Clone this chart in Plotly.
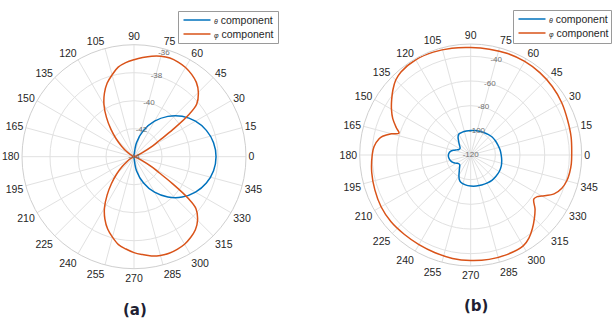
import plotly.graph_objects as go

# ---------------- (a) far-field components, dB ----------------
phi_a = [0, 5, 10, 15, 20, 25, 30, 32.5, 35, 37.5, 40, 45, 50, 55, 60, 65, 70, 75, 80, 85,
         90, 95, 100, 105, 110, 115, 120, 125, 130, 135, 140, 145, 150, 155, 160, 165,
         170, 175, 180, 185, 190, 195, 200, 205, 210, 215, 220, 225, 230, 235, 240, 245,
         250, 255, 260, 265, 270, 275, 280, 285, 290, 295, 300, 305, 310, 315, 320,
         322.5, 325, 327.5, 330, 335, 340, 345, 350, 355]
ephi_a = [-44, -44, -44, -43.97, -43.8, -43.43, -42.45, -41.85, -40.6, -39.05, -38.15,
          -37.5, -37.07, -36.82, -36.64, -36.54, -36.5, -36.57, -36.71, -36.89, -37.07,
          -37.25, -37.5, -37.95, -38.4, -39.0, -39.71, -40.57, -41.43, -42.21, -42.86,
          -43.36, -43.71, -43.93, -44, -44, -44, -44, -44, -44, -44, -44, -44, -43.93,
          -43.71, -43.38, -42.9, -42.25, -41.5, -40.65, -39.78, -39.08, -38.5, -38.05,
          -37.62, -37.38, -37.15, -36.98, -36.8, -36.7, -36.66, -36.7, -36.78, -36.95,
          -37.18, -37.58, -38.22, -39.15, -40.65, -41.9, -42.5, -43.45, -43.82, -43.97,
          -44, -44]

theta_a = [0, 10, 20, 30, 40, 50, 60, 70, 80, 90, 100, 110, 120, 130, 140, 150, 160, 170,
           180, 190, 200, 210, 220, 230, 240, 250, 260, 270, 280, 290, 300, 310, 320, 330,
           340, 350]
etheta_a = [-38.14, -38.23, -38.5, -38.93, -39.51, -40.24, -41.07, -42.0, -42.98, -44,
            -44, -44, -44, -44, -44, -44, -44, -44, -44, -44, -44, -44, -44, -44, -44,
            -44, -44, -44, -42.98, -42.0, -41.07, -40.24, -39.51, -38.93, -38.5, -38.23]

# ---------------- (b) far-field components, dB ----------------
phi_b = [0, 10, 20, 30, 40, 50, 60, 70, 80, 90, 100, 110, 120, 130, 135, 140, 145, 150,
         155, 160, 163, 165, 168, 170, 175, 180, 190, 200, 210, 220, 230, 240, 250, 260,
         270, 280, 290, 300, 305, 310, 315, 320, 325, 328, 330, 335, 340, 345, 350, 355]
ephi_b = [-38.11, -37.3, -36.49, -34.87, -33.65, -32.84, -32.43, -32.43, -32.84, -32.84,
          -32.03, -31.22, -30.81, -32.03, -34.06, -37.7, -41.76, -45.81, -50.27, -55.95,
          -59.19, -53.51, -47.03, -44.6, -41.35, -40.14, -38.51, -37.3, -36.08, -35.68,
          -36.08, -36.08, -35.68, -34.87, -34.46, -34.06, -34.06, -34.87, -37.7, -42.16,
          -47.03, -51.89, -57.57, -56.35, -53.51, -45.41, -41.35, -39.33, -38.51, -38.11]

theta_b = [0, 10, 20, 30, 40, 50, 60, 70, 80, 90, 100, 110, 120, 125, 130, 135, 140, 145,
           150, 155, 160, 165, 170, 175, 180, 185, 190, 195, 200, 205, 210, 215, 220, 225,
           230, 235, 240, 245, 250, 260, 270, 280, 290, 300, 310, 320, 330, 340, 350]
etheta_b = [-95.27, -95.84, -96.49, -96.89, -97.3, -98.11, -98.92, -99.49, -99.89, -100.14,
            -100.3, -100.3, -100.54, -102.16, -104.59, -106.62, -108.24, -109.46, -109.86,
            -109.46, -107.84, -105.41, -103.38, -102.32, -101.92, -101.92, -102.32, -102.97,
            -103.78, -105.0, -106.62, -107.84, -108.24, -107.43, -105.81, -103.78, -100.95,
            -98.11, -96.49, -95.43, -94.87, -94.46, -94.05, -93.65, -93.24, -93.24, -93.24,
            -93.65, -94.46]

# axis ticks
ang_ticks = list(range(0, 360, 15))
r_ticks_a = [-44, -42, -40, -38, -36]
r_range_a = [-44, -36]
r_ticks_b = [-120, -100, -80, -60, -40]
r_range_b = [-120, -30]
r_label_angle = [74.5, 75]

series_names = ["θ", "φ"]
panel_labels = ["(a)", "(b)"]

BLUE = "#0072BD"
ORANGE = "#D95319"
GRID = "#e1e1e1"
EDGE = "#cfcfcf"
TXT = "#262626"
FONT = "Liberation Sans, Arial, sans-serif"

W, H = 616, 320


def closed(a, v):
    return list(a) + [a[0]], list(v) + [v[0]]


fig = go.Figure()

for (ang, val, color, sub) in [
    (theta_a, etheta_a, BLUE, "polar"),
    (phi_a, ephi_a, ORANGE, "polar"),
    (theta_b, etheta_b, BLUE, "polar2"),
    (phi_b, ephi_b, ORANGE, "polar2"),
]:
    t, r = closed(ang, val)
    fig.add_trace(go.Scatterpolar(
        theta=t, r=r, mode="lines", subplot=sub, showlegend=False,
        line=dict(color=color, width=1.5, shape="spline", smoothing=1.0),
        hoverinfo="skip",
    ))

# radial tick labels, set along a ray just clockwise of the 80 degree spoke;
# a label sitting on the outer edge is nudged inward
for sub, ticks, ang, rmax in [("polar", r_ticks_a, r_label_angle[0], r_range_a[1]),
                              ("polar2", r_ticks_b, r_label_angle[1], r_range_b[1])]:
    fig.add_trace(go.Scatterpolar(
        r=ticks, theta=[ang] * len(ticks), text=[str(t) for t in ticks],
        mode="text", subplot=sub, showlegend=False, hoverinfo="skip",
        textposition=["bottom center" if t >= rmax else "middle center" for t in ticks],
        cliponaxis=False,
        textfont=dict(family=FONT, size=8, color="#707070"),
    ))


def polar_layout(dx, dy, rrange, rticks):
    return dict(
        domain=dict(x=dx, y=dy),
        bgcolor="white",
        angularaxis=dict(
            rotation=0, direction="counterclockwise",
            tickmode="array", tickvals=ang_ticks, ticktext=[str(t) for t in ang_ticks],
            showgrid=True, gridcolor=GRID, gridwidth=1,
            showline=True, linecolor=EDGE, linewidth=1,
            ticks="", tickfont=dict(family=FONT, size=10.5, color=TXT),
        ),
        radialaxis=dict(
            range=rrange, angle=80, tickmode="array", tickvals=rticks,
            showticklabels=False, showline=False, showgrid=True,
            gridcolor=GRID, gridwidth=1, ticks="",
        ),
    )


def px(x):
    return x / W


def py(y):
    return 1 - y / H


# legend boxes (pixel frame: left, top, right, bottom) for each panel
legend_frames = [(178.5, 11.5, 278.5, 43.5), (513.5, 10.5, 611.5, 43.5)]
shapes, annotations = [], []
for (x0, y0, x1, y1) in legend_frames:
    shapes.append(dict(type="rect", xref="paper", yref="paper",
                       x0=px(x0), x1=px(x1), y0=py(y0), y1=py(y1),
                       line=dict(color="#9a9a9a", width=1), fillcolor="white", layer="above"))
    for i, (nm, color) in enumerate(zip(series_names, [BLUE, ORANGE])):
        yy = y0 + 8.5 + 14 * i
        shapes.append(dict(type="line", xref="paper", yref="paper",
                           x0=px(x0 + 5), x1=px(x0 + 32), y0=py(yy), y1=py(yy),
                           line=dict(color=color, width=1.5), layer="above"))
        annotations.append(dict(
            text=f"<span style='font-size:7px'><i>{nm}</i></span> component",
            x=px(x0 + 33), y=py(yy), xref="paper", yref="paper",
            xanchor="left", yanchor="middle", showarrow=False,
            font=dict(family=FONT, size=10.5, color=TXT)))

for lbl, (cx, cy) in zip(panel_labels, [(135, 309.5), (475.5, 306)]):
    annotations.append(dict(text=f"<b>{lbl}</b>", x=px(cx), y=py(cy), xref="paper",
                            yref="paper", xanchor="center", yanchor="middle",
                            showarrow=False,
                            font=dict(family="DejaVu Sans", size=15, color="#1f1f33")))

fig.update_layout(
    width=W, height=H,
    margin=dict(l=0, r=0, t=0, b=0),
    paper_bgcolor="white",
    showlegend=False,
    polar=polar_layout([(134 - 112) / W, (134 + 112) / W],
                       [(163.3 - 112) / H, (163.3 + 112) / H], r_range_a, r_ticks_a),
    polar2=polar_layout([(470.7 - 111) / W, (470.7 + 111) / W],
                        [(165 - 111) / H, (165 + 111) / H], r_range_b, r_ticks_b),
    shapes=shapes,
    annotations=annotations,
)

fig.write_html("out.html")
